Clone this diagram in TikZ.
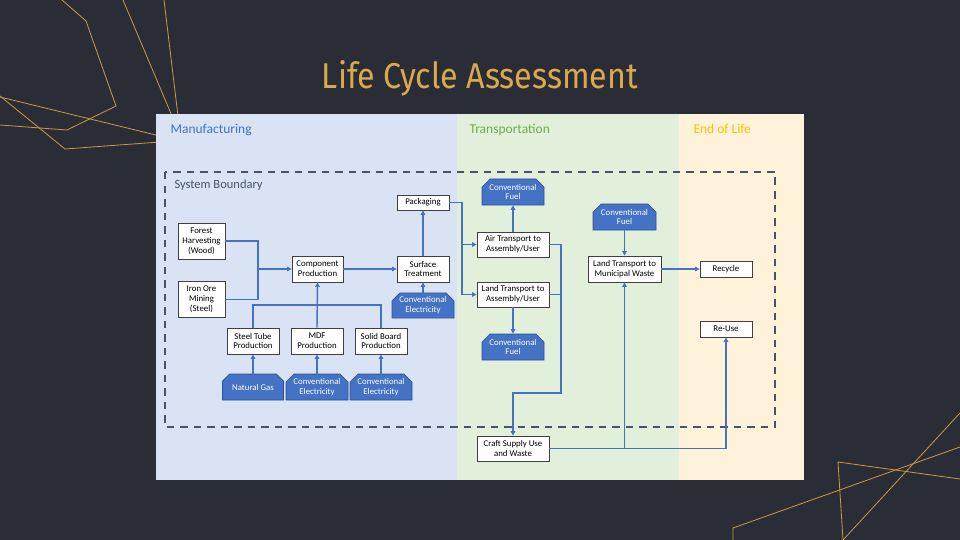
\documentclass[tikz,border=0pt]{standalone}
\usepackage{fontspec}
\usepackage{graphicx}
\setmainfont{Carlito}
\newfontfamily\titlefont{Fira Sans}
\usetikzlibrary{arrows.meta,shapes.misc}

\definecolor{slide}{HTML}{2A2D36}
\definecolor{gold}{HTML}{D9A94C}
\definecolor{goldline}{HTML}{C99A45}
\definecolor{mfgbg}{HTML}{DAE3F3}
\definecolor{trnbg}{HTML}{E2EFDA}
\definecolor{eolbg}{HTML}{FEF2DA}
\definecolor{accent}{HTML}{4472C4}
\definecolor{accentdark}{HTML}{2F528F}
\definecolor{trngreen}{HTML}{70AD47}
\definecolor{eolgold}{HTML}{FFC000}
\definecolor{slate}{HTML}{44546A}
\definecolor{boxline}{HTML}{404040}

\tikzset{
  deco/.style={draw=goldline, line width=0.8pt},
  stage/.style={anchor=base west, font=\fontsize{13.5}{15}\selectfont},
  procbox/.style={draw=boxline, fill=white, line width=0.8pt, align=center,
    inner sep=0pt, font=\fontsize{8.8}{9.8}\selectfont},
  source/.style={chamfered rectangle, chamfered rectangle corners={north west,north east},
    chamfered rectangle xsep=4pt, chamfered rectangle ysep=4pt,
    draw=accentdark, fill=accent, line width=0.6pt, text=white, align=center,
    inner sep=0pt, font=\fontsize{8.8}{9.8}\selectfont},
  flow/.style={draw=accent, line width=1.4pt},
  flowto/.style={flow, -{Triangle[length=4.5pt,width=4.5pt]}},
}

\begin{document}
\begin{tikzpicture}[x=1pt,y=-1pt]
  % slide background
  \fill[slide] (0,0) rectangle (960,540);
  \useasboundingbox (0,0) rectangle (960,540);

  % decorative gold strokes
  \draw[deco] (62,0) -- (86,21) -- (116,106) -- (67,130) -- (0,125);
  \draw[deco] (123,0) -- (172,116);
  \draw[deco] (164,0) -- (178,116);
  \draw[deco] (0,97) -- (160,136);
  \draw[deco] (0,96) -- (65,149) -- (160,142);
  \draw[deco] (960,413) -- (843,540);
  \draw[deco] (960,447) -- (733,528) -- (733,540);
  \draw[deco] (960,479) -- (838,462) -- (843,540);

  % title
  \node[text=gold] (title) at (480,78)
    {\resizebox{316pt}{28pt}{\titlefont Life Cycle Assessment}};

  % stage panels
  \fill[mfgbg] (156,114) rectangle (457,480);
  \fill[trnbg] (457,114) rectangle (679,480);
  \fill[eolbg] (679,114) rectangle (804,480);

  \node[stage, text=accent]   (lblmfg) at (167,134) {Manufacturing};
  \node[stage, text=trngreen] (lbltrn) at (466,134) {Transportation};
  \node[stage, text=eolgold]  (lbleol) at (690,134) {End of Life};

  % system boundary
  \draw[slate, line width=1.8pt, dash pattern=on 7.5pt off 6pt]
    (165,172) rectangle (775,427);
  \node[anchor=base west, text=slate, font=\fontsize{12.5}{14}\selectfont]
    (sysb) at (171,189) {System Boundary};

  % manufacturing
  \node[procbox, minimum width=47pt, minimum height=36pt] (forest) at (201.5,241) {Forest\\Harvesting\\(Wood)};
  \node[procbox, minimum width=47pt, minimum height=36pt] (iron) at (201.5,299.5) {Iron Ore\\Mining\\(Steel)};
  \node[procbox, minimum width=51pt, minimum height=26pt] (comp) at (317.5,269) {Component\\Production};
  \node[procbox, minimum width=52pt, minimum height=26pt] (surf) at (423,269) {Surface\\Treatment};
  \node[procbox, minimum width=52pt, minimum height=15pt] (pack) at (423,202.5) {Packaging};
  \node[source, minimum width=62pt, minimum height=25pt] (elec1) at (423,305.5) {Conventional\\Electricity};
  \node[procbox, minimum width=52pt, minimum height=26pt] (steel) at (253,341) {Steel Tube\\Production};
  \node[procbox, minimum width=52pt, minimum height=26pt] (mdf) at (317,341) {MDF\\Production};
  \node[procbox, minimum width=52pt, minimum height=26pt] (solid) at (381,341) {Solid Board\\Production};
  \node[source, minimum width=61pt, minimum height=26pt] (gas) at (253,387) {Natural Gas};
  \node[source, minimum width=62pt, minimum height=26pt] (elec2) at (317,387) {Conventional\\Electricity};
  \node[source, minimum width=62pt, minimum height=26pt] (elec3) at (381,387) {Conventional\\Electricity};

  % transportation
  \node[source, minimum width=62pt, minimum height=26pt] (fuel1) at (513,192) {Conventional\\Fuel};
  \node[procbox, minimum width=72pt, minimum height=25pt] (air) at (513,244.5) {Air Transport to\\Assembly/User};
  \node[procbox, minimum width=72pt, minimum height=25pt] (landa) at (513,294.5) {Land Transport to\\Assembly/User};
  \node[source, minimum width=62pt, minimum height=26pt] (fuel2) at (513,347) {Conventional\\Fuel};
  \node[procbox, minimum width=72pt, minimum height=25pt] (craft) at (513,448.5) {Craft Supply Use\\and Waste};

  % end of life
  \node[source, minimum width=63pt, minimum height=26pt] (fuel3) at (624.5,217) {Conventional\\Fuel};
  \node[procbox, minimum width=73pt, minimum height=26pt] (landm) at (624.5,269) {Land Transport to\\Municipal Waste};
  \node[procbox, minimum width=52pt, minimum height=16pt] (recycle) at (726,269) {Recycle};
  \node[procbox, minimum width=52pt, minimum height=16pt] (reuse) at (726,329) {Re-Use};

  % junction points
  \coordinate (rawjoin) at (258,269);
  \coordinate (partbus) at (317,305);
  \coordinate (shipsplit) at (462,244.5);
  \coordinate (userdrop) at (561,393);
  \coordinate (wastesplit) at (624.5,448.5);

  % raw materials into component production
  \draw[flow] (forest.east) -| (rawjoin);
  \draw[flow] (iron.east) -| (rawjoin);
  \draw[flowto] (rawjoin) -- (comp.west);
  \draw[flowto] (comp.east) -- (surf.west);
  \draw[flowto] (surf.north) -- (pack.south);
  \draw[flowto] (elec1.north) -- (surf.south);

  % parts into component production
  \draw[flow] (steel.north) |- (partbus) -| (solid.north);
  \draw[flowto] (mdf.north) -- (comp.south);
  \draw[flowto] (gas.north) -- (steel.south);
  \draw[flowto] (elec2.north) -- (mdf.south);
  \draw[flowto] (elec3.north) -- (solid.south);

  % shipping
  \draw[flow] (pack.east) -| (shipsplit);
  \draw[flowto] (shipsplit) -- (air.west);
  \draw[flowto] (shipsplit) |- (landa.west);
  \draw[flowto] (air.north) -- (fuel1.south);
  \draw[flowto] (landa.south) -- (fuel2.north);
  \draw[flow] (air.east) -| (userdrop);
  \draw[flowto] (landa.east) -| (userdrop) -| (craft.north);

  % disposal
  \draw[flowto] (craft.east) -| (reuse.south);
  \draw[flowto] (wastesplit) -- (landm.south);
  \draw[flowto] (fuel3.south) -- (landm.north);
  \draw[flowto] (landm.east) -- (recycle.west);
\end{tikzpicture}
\end{document}
